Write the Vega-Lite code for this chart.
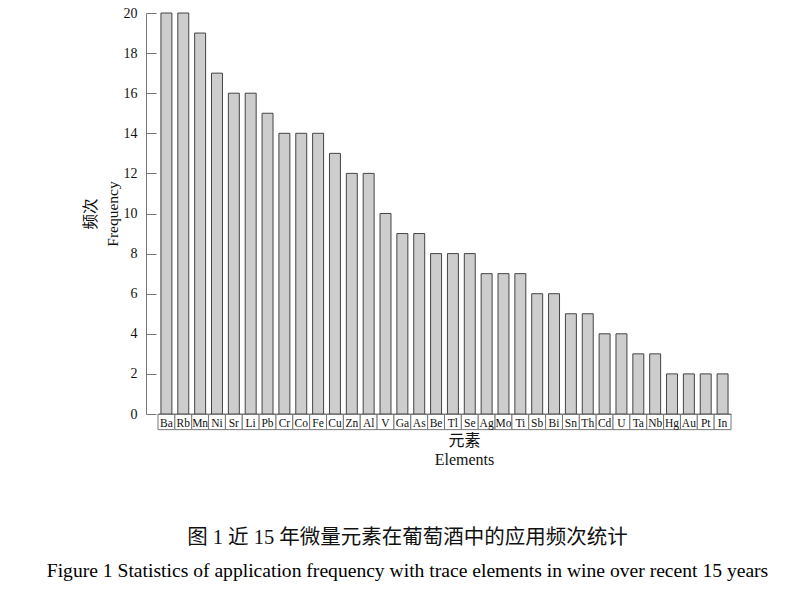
{
  "$schema": "https://vega.github.io/schema/vega-lite/v6.json",
  "width": 585,
  "height": 401,
  "autosize": "none",
  "padding": {"left": 146, "top": 13, "right": 78, "bottom": 184},
  "background": "white",
  "config": {"view": {"stroke": null}, "font": "Liberation Serif"},
  "title": {
    "text": "图 1  近 15 年微量元素在葡萄酒中的应用频次统计",
    "subtitle": "Figure 1 Statistics of application frequency with trace elements in wine over recent 15 years",
    "orient": "bottom",
    "anchor": "middle",
    "dx": -31,
    "offset": 60,
    "font": "Liberation Serif, Noto Sans CJK SC",
    "fontSize": 20.5,
    "fontWeight": "normal",
    "color": "#111",
    "subtitleFont": "Liberation Serif",
    "subtitleFontSize": 19.6,
    "subtitleColor": "#000",
    "subtitlePadding": 14
  },
  "data": {
    "values": [
      {"element": "Ba", "frequency": 20},
      {"element": "Rb", "frequency": 20},
      {"element": "Mn", "frequency": 19},
      {"element": "Ni", "frequency": 17},
      {"element": "Sr", "frequency": 16},
      {"element": "Li", "frequency": 16},
      {"element": "Pb", "frequency": 15},
      {"element": "Cr", "frequency": 14},
      {"element": "Co", "frequency": 14},
      {"element": "Fe", "frequency": 14},
      {"element": "Cu", "frequency": 13},
      {"element": "Zn", "frequency": 12},
      {"element": "Al", "frequency": 12},
      {"element": "V", "frequency": 10},
      {"element": "Ga", "frequency": 9},
      {"element": "As", "frequency": 9},
      {"element": "Be", "frequency": 8},
      {"element": "Tl", "frequency": 8},
      {"element": "Se", "frequency": 8},
      {"element": "Ag", "frequency": 7},
      {"element": "Mo", "frequency": 7},
      {"element": "Ti", "frequency": 7},
      {"element": "Sb", "frequency": 6},
      {"element": "Bi", "frequency": 6},
      {"element": "Sn", "frequency": 5},
      {"element": "Th", "frequency": 5},
      {"element": "Cd", "frequency": 4},
      {"element": "U", "frequency": 4},
      {"element": "Ta", "frequency": 3},
      {"element": "Nb", "frequency": 3},
      {"element": "Hg", "frequency": 2},
      {"element": "Au", "frequency": 2},
      {"element": "Pt", "frequency": 2},
      {"element": "In", "frequency": 2}
    ]
  },
  "encoding": {
    "x": {
      "field": "element",
      "type": "nominal",
      "sort": null,
      "scale": {"range": [12, 585], "paddingInner": 0.35, "paddingOuter": 0.175},
      "axis": {
        "zindex": 2,
        "title": ["元素", "Elements"],
        "titleFont": "Liberation Serif, Noto Sans CJK SC",
        "titleFontSize": 16,
        "titleFontWeight": "normal",
        "titleLineHeight": 19,
        "titleColor": "#111",
        "titleX": 318,
        "titlePadding": 4,
        "labelAngle": 0,
        "labelFont": "Liberation Serif",
        "labelFontSize": 11.5,
        "labelColor": "#111",
        "labelPadding": 3,
        "ticks": false,
        "tickSize": 0,
        "domain": true,
        "domainColor": "#777",
        "grid": false
      }
    }
  },
  "layer": [
    {
      "mark": {"type": "bar", "width": {"band": 1.5385}, "fill": "white", "stroke": "#777", "strokeWidth": 1, "clip": false},
      "encoding": {
        "y": {"datum": 0, "type": "quantitative", "scale": {"domain": [0, 20]}},
        "y2": {"datum": -0.78}
      }
    },
    {
      "mark": {"type": "bar", "fill": "#cdcdcd", "stroke": "#444", "strokeWidth": 1},
      "encoding": {
        "y": {
          "field": "frequency",
          "type": "quantitative",
          "scale": {"domain": [0, 20], "nice": false},
          "axis": {
            "zindex": 2,
            "title": ["频次", "Frequency"],
            "titleFont": "Liberation Serif, Noto Sans CJK SC",
            "titleFontSize": 15.5,
            "titleFontWeight": "normal",
            "titleLineHeight": 22,
            "titleColor": "#111",
            "titlePadding": 3,
            "values": [0, 2, 4, 6, 8, 10, 12, 14, 16, 18, 20],
            "labelFont": "Liberation Serif",
            "labelFontSize": 14,
            "labelColor": "#111",
            "labelPadding": 19,
            "tickSize": -10,
            "tickColor": "#777",
            "domainColor": "#777",
            "grid": false
          }
        }
      }
    }
  ]
}
